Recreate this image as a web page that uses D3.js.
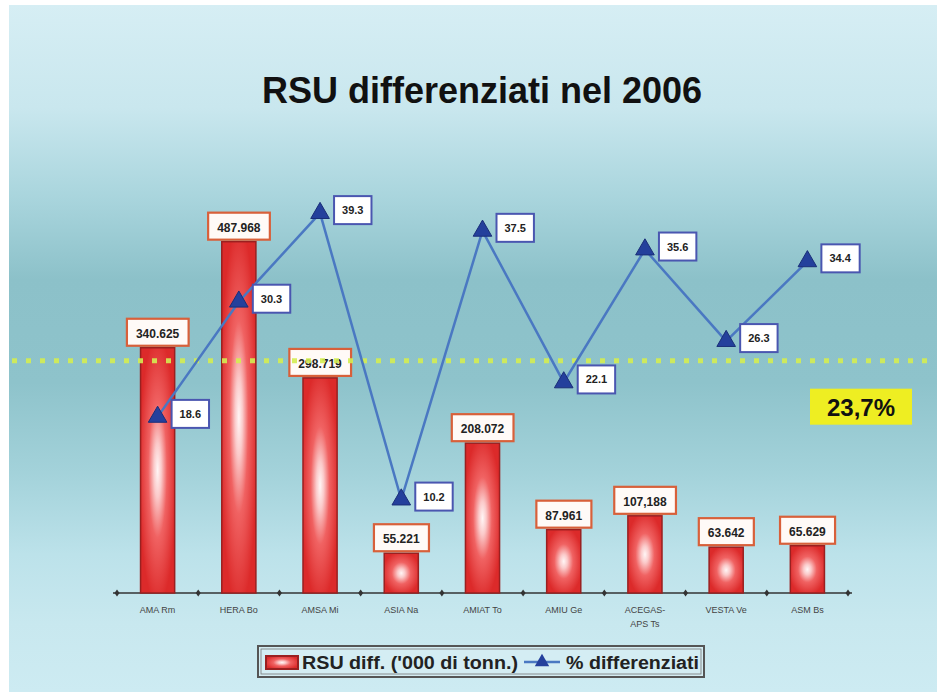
<!DOCTYPE html>
<html>
<head>
<meta charset="utf-8">
<script src="https://cdn.jsdelivr.net/npm/d3@7"></script>
<style>
  html, body { margin: 0; padding: 0; background: #ffffff; }
  svg { display: block; }
</style>
</head>
<body>
<div id="chart"></div>
<script>
// ---- data ----
const categories = ["AMA Rm", "HERA Bo", "AMSA Mi", "ASIA Na", "AMIAT To", "AMIU Ge", "ACEGAS-\nAPS Ts", "VESTA Ve", "ASM Bs"];
const rsuValues  = [340.625, 487.968, 298.719, 55.221, 208.072, 87.961, 107.188, 63.642, 65.629];
const rsuLabels  = ["340.625", "487.968", "298.719", "55.221", "208.072", "87.961", "107,188", "63.642", "65.629"];
const pctValues  = [18.6, 30.3, 39.3, 10.2, 37.5, 22.1, 35.6, 26.3, 34.4];
const pctLabels  = ["18.6", "30.3", "39.3", "10.2", "37.5", "22.1", "35.6", "26.3", "34.4"];
const avgPct = 23.7;
const avgLabel = "23,7%";
const titleText = "RSU differenziati nel 2006";
const legendLabels = ["RSU diff. ('000 di tonn.)", "% differenziati"];

// ---- setup ----
const W = 944, H = 696;
const FONT = "'Liberation Sans', Arial, sans-serif";
const svg = d3.select("#chart").append("svg").attr("width", W).attr("height", H);
const defs = svg.append("defs");

const bg = defs.append("linearGradient").attr("id", "bg").attr("x1", 0).attr("y1", 0).attr("x2", 0).attr("y2", 1);
[[0, "#d6eef4"], [0.15, "#c9e7ee"], [0.28, "#a9d5dd"], [0.40, "#8cc1c9"], [0.55, "#8ec3cb"],
 [0.68, "#a3d2da"], [0.80, "#bce2ea"], [0.90, "#c8e8ef"], [1, "#cdebf2"]]
  .forEach(([o, c]) => bg.append("stop").attr("offset", o).attr("stop-color", c));

const barGrad = defs.append("radialGradient").attr("id", "barGrad").attr("cx", 0.5).attr("cy", 0.5).attr("r", 0.55);
[[0, "#fff6f6"], [0.2, "#fbcaca"], [0.5, "#f06262"], [1, "#dc2a2a"]]
  .forEach(([o, c]) => barGrad.append("stop").attr("offset", o).attr("stop-color", c));

svg.append("rect").attr("x", 9).attr("y", 5).attr("width", 928).attr("height", 687).attr("fill", "url(#bg)");

// ---- scales ----
const x = d3.scaleBand().domain(categories).range([117, 848]).paddingInner(0).paddingOuter(0);
const yBar = d3.scaleLinear().domain([0, 600]).range([593, 161]);
const yPct = d3.scaleLinear().domain([0, 45]).range([600, 157]);
const barW = x.bandwidth() * 0.42;
const cx = d => x(d) + x.bandwidth() / 2;

// ---- title ----
svg.append("text").attr("x", 482).attr("y", 103).attr("text-anchor", "middle")
  .attr("font-family", FONT).attr("font-weight", "bold").attr("font-size", 36)
  .attr("fill", "#111").text(titleText);

// ---- axis ----
const axis = d3.axisBottom(x).tickSize(0).tickPadding(14).tickFormat(d => d);
const gAxis = svg.append("g").attr("transform", `translate(0,${yBar(0)})`).call(axis);
gAxis.select(".domain").attr("stroke", "#333").attr("stroke-width", 1.5).attr("d", `M${x.range()[0] - 4},0H${x.range()[1] + 4}`);
gAxis.selectAll(".tick text").each(function(d) {
  const t = d3.select(this);
  const lines = d.split("\n");
  t.text(null).attr("font-family", FONT).attr("font-size", 9).attr("fill", "#444");
  lines.forEach((ln, i) => t.append("tspan").attr("x", 0).attr("dy", i === 0 ? "0.71em" : "1.5em").text(ln));
});
const boundaries = d3.range(categories.length + 1).map(i => x.range()[0] + i * x.step());
gAxis.selectAll(".bt").data(boundaries).join("path").attr("class", "bt")
  .attr("d", b => `M${b},-3.5L${b + 2.5},0L${b},3.5L${b - 2.5},0Z`).attr("fill", "#333");

// ---- bars ----
svg.append("g").selectAll("rect").data(categories).join("rect")
  .attr("x", d => cx(d) - barW / 2)
  .attr("y", (d, i) => yBar(rsuValues[i]))
  .attr("width", barW)
  .attr("height", (d, i) => yBar(0) - yBar(rsuValues[i]))
  .attr("fill", "url(#barGrad)").attr("stroke", "#9a2020").attr("stroke-width", 1.5);

// ---- bar labels ----
const gBL = svg.append("g");
categories.forEach((d, i) => {
  const g = gBL.append("g");
  const t = g.append("text").attr("x", cx(d)).attr("y", yBar(rsuValues[i]) - 10)
    .attr("text-anchor", "middle").attr("font-family", FONT).attr("font-weight", "bold")
    .attr("font-size", 12).attr("fill", "#222").text(rsuLabels[i]);
  const bb = t.node().getBBox();
  g.insert("rect", "text").attr("x", bb.x - 9).attr("y", yBar(rsuValues[i]) - 29)
    .attr("width", bb.width + 18).attr("height", 27)
    .attr("fill", "#fffaf7").attr("stroke", "#d8603a").attr("stroke-width", 2.2);
});

// ---- average dotted line ----
svg.append("line").attr("x1", 12).attr("x2", 936).attr("y1", yPct(avgPct) - 6).attr("y2", yPct(avgPct) - 6)
  .attr("stroke", "#d4ee52").attr("stroke-width", 5).attr("stroke-dasharray", "5,9").attr("opacity", 0.9);

// ---- line ----
const line = d3.line().x((v, i) => cx(categories[i])).y(v => yPct(v));
svg.append("path").datum(pctValues).attr("d", line).attr("fill", "none")
  .attr("stroke", "#4a78c2").attr("stroke-width", 2.5);
const tri = d3.symbol().type(d3.symbolTriangle).size(150);
svg.append("g").selectAll("path").data(pctValues).join("path")
  .attr("transform", (v, i) => `translate(${cx(categories[i])},${yPct(v)})`)
  .attr("d", tri).attr("fill", "#24409c").attr("stroke", "#1a2e78").attr("stroke-width", 1);

// ---- pct labels ----
const gPL = svg.append("g");
pctValues.forEach((v, i) => {
  const px = cx(categories[i]) + 14, py = yPct(v) - 3;
  const g = gPL.append("g");
  const t = g.append("text").attr("x", px + 8).attr("y", py + 4).attr("font-family", FONT)
    .attr("font-weight", "bold").attr("font-size", 11).attr("fill", "#222").text(pctLabels[i]);
  const bb = t.node().getBBox();
  g.insert("rect", "text").attr("x", px).attr("y", py - 14).attr("width", bb.width + 16).attr("height", 28)
    .attr("fill", "#ffffff").attr("stroke", "#4a56b0").attr("stroke-width", 2);
});

// ---- average box ----
const avgG = svg.append("g");
avgG.append("rect").attr("x", 810).attr("y", yPct(avgPct) + 22).attr("width", 102).attr("height", 36)
  .attr("fill", "#eeee22");
avgG.append("text").attr("x", 861).attr("y", yPct(avgPct) + 49).attr("text-anchor", "middle")
  .attr("font-family", FONT).attr("font-weight", "bold").attr("font-size", 24).attr("fill", "#111").text(avgLabel);

// ---- legend ----
const lg = svg.append("g");
lg.append("rect").attr("x", 258).attr("y", 646).attr("width", 446).attr("height", 31)
  .attr("fill", "#d4edf3").attr("stroke", "#555").attr("stroke-width", 2);
lg.append("rect").attr("x", 261).attr("y", 649).attr("width", 440).attr("height", 25)
  .attr("fill", "none").attr("stroke", "#777").attr("stroke-width", 0.8);
lg.append("rect").attr("x", 266).attr("y", 656).attr("width", 32).attr("height", 13)
  .attr("fill", "url(#barGrad)").attr("stroke", "#9a2020").attr("stroke-width", 2);
lg.append("text").attr("x", 302).attr("y", 669).attr("font-family", FONT).attr("font-weight", "bold")
  .attr("font-size", 18).attr("textLength", 216).attr("lengthAdjust", "spacingAndGlyphs")
  .attr("fill", "#222").text(legendLabels[0]);
lg.append("line").attr("x1", 524).attr("x2", 560).attr("y1", 662).attr("y2", 662)
  .attr("stroke", "#4a78c2").attr("stroke-width", 2.5);
lg.append("path").attr("transform", "translate(542,662)").attr("d", d3.symbol().type(d3.symbolTriangle).size(90))
  .attr("fill", "#24409c");
lg.append("text").attr("x", 566).attr("y", 669).attr("font-family", FONT).attr("font-weight", "bold")
  .attr("font-size", 18).attr("textLength", 133).attr("lengthAdjust", "spacingAndGlyphs")
  .attr("fill", "#222").text(legendLabels[1]);
</script>
</body>
</html>
